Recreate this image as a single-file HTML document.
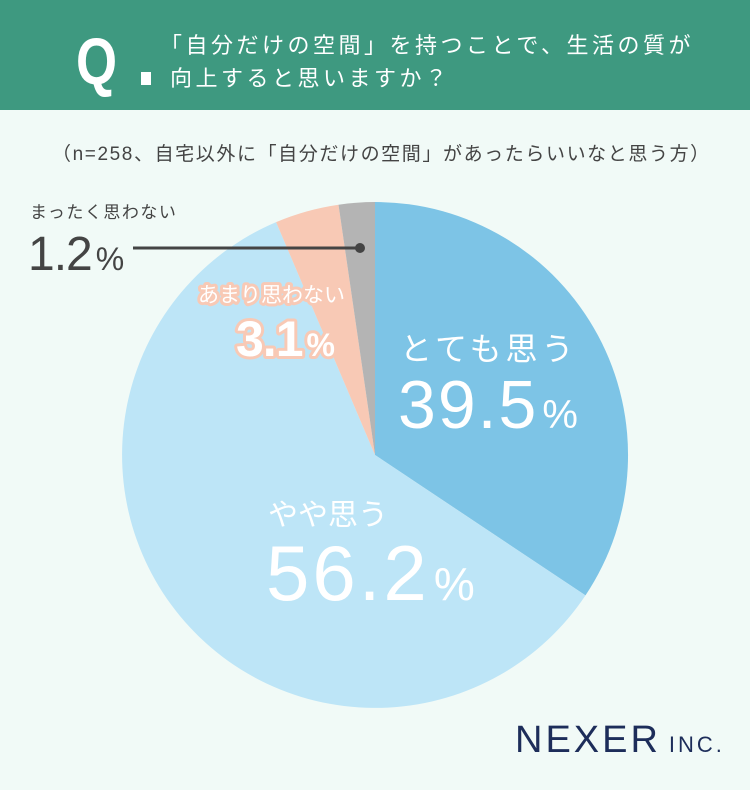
<!DOCTYPE html>
<html><head><meta charset="utf-8"><style>
body{margin:0;width:750px;height:790px;background:#f1faf7;overflow:hidden;font-family:"Liberation Sans","Noto Sans CJK JP",sans-serif}
</style></head><body>
<svg width="750" height="790" xmlns="http://www.w3.org/2000/svg" style="position:absolute;left:0;top:0">
<rect x="0" y="0" width="750" height="110" fill="#3e9980"/>
<text x="76" y="84" font-size="66" font-weight="bold" fill="#fff" font-family="Liberation Sans,sans-serif" transform="translate(76 0) scale(0.8 1) translate(-76 0)">Q</text>
<rect x="141" y="72" width="10" height="13" fill="#fff"/>
<g font-family="Noto Sans CJK JP,sans-serif" fill="#fff" font-size="22" letter-spacing="3.5">
<text x="160" y="53">「自分だけの空間」を持つことで、生活の質が</text>
<text x="170" y="86">向上すると思いますか？</text>
</g>
<text x="52" y="160" font-size="19" fill="#444" letter-spacing="1.6" font-family="Liberation Sans,Noto Sans CJK JP,sans-serif">（n=258、自宅以外に「自分だけの空間」があったらいいなと思う方）</text>
<path d="M375 455 L375 202 A253 253 0 0 1 585.5 595.4 Z" fill="#7dc4e6"/>
<path d="M375 455 L585.5 595.4 A253 253 0 1 1 276.1 222.1 Z" fill="#bde5f7"/>
<path d="M375 455 L276.1 222.1 A253 253 0 0 1 338.5 204.7 Z" fill="#f8c9b5"/>
<path d="M375 455 L338.5 204.7 A253 253 0 0 1 375 202 Z" fill="#b4b4b4"/>
<line x1="133" y1="248" x2="360" y2="248" stroke="#444" stroke-width="3"/>
<circle cx="360" cy="248" r="5" fill="#444"/>
<g font-family="Liberation Sans,Noto Sans CJK JP,sans-serif">
<text x="30" y="218" font-size="17" fill="#444" letter-spacing="1.5">まったく思わない</text>
<text x="28" y="270" font-size="48" fill="#444" letter-spacing="-1">1.2<tspan font-size="32" dx="4">%</tspan></text>
<g fill="#fff" stroke="#f8c9b5" stroke-width="6" paint-order="stroke" stroke-linejoin="round">
<text x="198" y="302" font-size="21">あまり思わない</text>
<text x="236" y="356" font-size="50" font-weight="bold" letter-spacing="-1">3.1<tspan font-size="32" dx="4">%</tspan></text>
</g>
<g fill="#fff">
<text x="400" y="360" font-size="32" letter-spacing="4">とても思う</text>
<text x="398" y="428" font-size="68" letter-spacing="2">39.5<tspan font-size="40" dx="4">%</tspan></text>
<text x="268" y="525" font-size="30">やや思う</text>
<text x="266" y="600" font-size="78" letter-spacing="3">56.2<tspan font-size="46" dx="4">%</tspan></text>
</g>
<text x="515" y="752" font-size="38" fill="#1d2d5a" font-family="Liberation Sans,sans-serif" letter-spacing="3">NEXER<tspan font-size="22" dx="8">INC.</tspan></text>
</g>
</svg>
</body></html>
